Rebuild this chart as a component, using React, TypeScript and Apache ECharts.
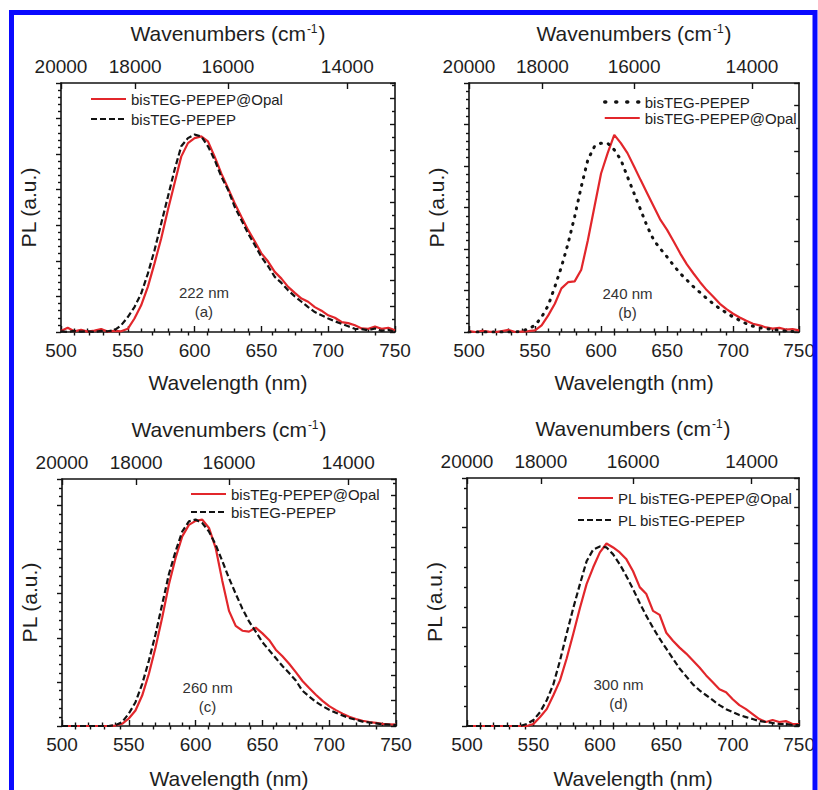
import React, { useEffect, useRef } from "react";
import * as echarts from "echarts";

// ---------- data ----------
const WL = [
  500, 505, 510, 515, 520, 525, 530, 535, 540, 545, 550, 555, 560, 565, 570, 575, 580, 585, 590, 595,
  600, 605, 610, 615, 620, 625, 630, 635, 640, 645, 650, 655, 660, 665, 670, 675, 680, 685, 690, 695,
  700, 705, 710, 715, 720, 725, 730, 735, 740, 745, 750,
];

// (a) excitation 222 nm
const A_OPAL = [
  0.03, 0.12, 0.02, 0.06, 0.01, 0.04, 0.08, 0.01, 0.03,
  0.02, 0.09, 0.38, 0.75, 1.27, 1.93, 2.63, 3.43, 4.18, 4.93, 5.31, 5.45,
  5.5, 5.36, 4.93, 4.46, 4.04, 3.62, 3.24, 2.87, 2.55, 2.21,
  1.98, 1.69, 1.5, 1.27, 1.1, 0.94, 0.85, 0.7, 0.6, 0.47,
  0.4, 0.28, 0.25, 0.19, 0.1, 0.09, 0.15, 0.09, 0.12, 0.05,
];
const A_PURE = [
  0.02, 0.0, 0.03, 0.01, 0.02, 0.0, 0.03, 0.02, 0.05,
  0.19, 0.42, 0.7, 1.08, 1.64, 2.3, 3.05, 3.8, 4.56, 5.22, 5.45, 5.55,
  5.5, 5.22, 4.84, 4.37, 4.0, 3.52, 3.15, 2.77, 2.45, 2.11,
  1.85, 1.55, 1.38, 1.17, 1.0, 0.85, 0.7, 0.56, 0.47, 0.38,
  0.3, 0.23, 0.16, 0.09, 0.08, 0.05, 0.1, 0.03, 0.06, 0.0,
];

// (b) excitation 240 nm
const B_PURE = [
  0, 0, 0, 0, 0, 0, 0, 0, 0.02,
  0.08, 0.16, 0.36, 0.64, 1.09, 1.57, 2.13, 2.78, 3.5, 4.15, 4.47, 4.55,
  4.55, 4.39, 4.15, 3.74, 3.34, 2.94, 2.54, 2.21, 2.0, 1.81,
  1.6, 1.41, 1.25, 1.09, 0.95, 0.81, 0.68, 0.56, 0.46, 0.36,
  0.28, 0.2, 0.14, 0.1, 0.08, 0.06, 0.04, 0.02, 0.01, 0,
];
const B_OPAL = [
  0.02, 0.0, 0.03, 0.01, 0.0, 0.02, 0.05, 0.0, 0.01,
  0.02, 0.04, 0.16, 0.4, 0.68, 1.05, 1.2, 1.22, 1.5, 2.21, 3.02, 3.82,
  4.31, 4.75, 4.55, 4.31, 3.99, 3.66, 3.34, 3.02, 2.7, 2.46,
  2.18, 1.89, 1.63, 1.41, 1.2, 1.01, 0.85, 0.68, 0.55, 0.44,
  0.35, 0.27, 0.2, 0.16, 0.11, 0.08, 0.1, 0.06, 0.07, 0.04,
];

// (c) excitation 260 nm
const C_OPAL = [
  0, 0, 0, 0, 0, 0, 0, 0, 0.01,
  0.05, 0.17, 0.35, 0.69, 1.18, 1.78, 2.46, 3.21, 3.81, 4.3, 4.56, 4.65,
  4.68, 4.49, 4.04, 3.29, 2.61, 2.27, 2.16, 2.14, 2.23, 2.1,
  1.95, 1.73, 1.58, 1.41, 1.22, 1.02, 0.86, 0.71, 0.57, 0.45,
  0.36, 0.28, 0.21, 0.16, 0.12, 0.09, 0.07, 0.05, 0.04, 0.03,
];
const C_PURE = [
  0, 0, 0, 0, 0, 0, 0, 0, 0.02,
  0.09, 0.28, 0.54, 0.95, 1.48, 2.08, 2.76, 3.44, 3.96, 4.41, 4.64, 4.68,
  4.6, 4.41, 4.11, 3.74, 3.35, 3.0, 2.66, 2.37, 2.14, 1.9,
  1.72, 1.54, 1.36, 1.2, 1.03, 0.8, 0.67, 0.55, 0.45, 0.37,
  0.3, 0.24, 0.18, 0.14, 0.1, 0.08, 0.06, 0.04, 0.03, 0.02,
];

// (d) excitation 300 nm
const D_OPAL = [
  0, 0, 0, 0, 0, 0, 0, 0, 0,
  0.0, 0.02, 0.09, 0.17, 0.31, 0.46, 0.68, 0.93, 1.19, 1.43, 1.6, 1.75,
  1.84, 1.8, 1.75, 1.68, 1.56, 1.4, 1.33, 1.16, 1.12, 0.94,
  0.86, 0.79, 0.73, 0.66, 0.59, 0.51, 0.44, 0.37, 0.34, 0.27,
  0.21, 0.17, 0.12, 0.07, 0.04, 0.06, 0.04, 0.05, 0.02, 0.02,
];
const D_PURE = [
  0, 0, 0, 0, 0, 0, 0, 0, 0,
  0.02, 0.06, 0.14, 0.26, 0.42, 0.66, 0.93, 1.19, 1.43, 1.66, 1.78, 1.81,
  1.8, 1.73, 1.63, 1.51, 1.38, 1.24, 1.11, 0.99, 0.88, 0.78,
  0.68, 0.58, 0.5, 0.42, 0.36, 0.31, 0.26, 0.21, 0.17, 0.14,
  0.11, 0.09, 0.07, 0.05, 0.04, 0.03, 0.02, 0.02, 0.01, 0.01,
];

// top axis tick labels (wavenumbers, cm-1)
const TOP_MAJOR_WN = [20000, 18000, 16000, 14000];
const TOP_MINOR_WN = [
  19600, 19200, 18800, 18400, 17600, 17200, 16800, 16400, 15600, 15200, 14800, 14400, 13600,
];

// ---------- styling / layout ----------
const FONT = "'Liberation Sans', Arial, Helvetica, sans-serif";
const TEXT = "#1e1e1e";
const RED = "#e2262b";
const BLACK = "#121212";

type SeriesDef = {
  name: string;
  data: number[];
  kind: "red" | "dash" | "dot";
};

const PANELS = [
  {
    key: "a",
    left: 61, top: 83, height: 249,
    leftMax: 7, rightMax: 9.6,
    xNameGap: 40,
    legend: { left: 90, top: 91.5, gap: 5 },
    series: [
      { name: "bisTEG-PEPEP@Opal", data: A_OPAL, kind: "red" },
      { name: "bisTEG-PEPEP", data: A_PURE, kind: "dash" },
    ] as SeriesDef[],
    note: { text: "222 nm\n(a)", at: [607, 0.83] },
  },
  {
    key: "b",
    left: 469, top: 83, height: 249,
    leftMax: 6, rightMax: 5.5,
    xNameGap: 40,
    legend: { left: 603, top: 94.5, gap: 1 },
    series: [
      { name: "bisTEG-PEPEP", data: B_PURE, kind: "dot" },
      { name: "bisTEG-PEPEP@Opal", data: B_OPAL, kind: "red" },
    ] as SeriesDef[],
    note: { text: "240 nm\n(b)", at: [620, 0.69] },
  },
  {
    key: "c",
    left: 62, top: 479, height: 248,
    leftMax: 5.6, rightMax: 9.65,
    xNameGap: 42,
    legend: { left: 190, top: 486.5, gap: 3 },
    series: [
      { name: "bisTEg-PEPEP@Opal", data: C_OPAL, kind: "red" },
      { name: "bisTEG-PEPEP", data: C_PURE, kind: "dash" },
    ] as SeriesDef[],
    note: { text: "260 nm\n(c)", at: [609, 0.65] },
  },
  {
    key: "d",
    left: 467, top: 478, height: 249,
    leftMax: 2.5, rightMax: 6.8,
    xNameGap: 42,
    legend: { left: 577, top: 490.5, gap: 7 },
    series: [
      { name: "PL bisTEG-PEPEP@Opal", data: D_OPAL, kind: "red" },
      { name: "PL bisTEG-PEPEP", data: D_PURE, kind: "dash" },
    ] as SeriesDef[],
    note: { text: "300 nm\n(d)", at: [614, 0.32] },
  },
];

const wnToNm = (wn: number) => 1e7 / wn;

function lineStyleFor(kind: SeriesDef["kind"]) {
  if (kind === "red") return { color: RED, width: 2.2, type: "solid" as const };
  if (kind === "dash") return { color: BLACK, width: 2.2, type: [6, 3] as number[] };
  return { color: BLACK, width: 3, type: [1, 7] as number[], cap: "round" as const };
}

function buildOption() {
  const grid: any[] = [];
  const xAxis: any[] = [];
  const yAxis: any[] = [];
  const series: any[] = [];
  const legend: any[] = [];
  const axisLine = { show: true, onZero: false, lineStyle: { color: BLACK, width: 1.6 } };
  const tickLine = { color: BLACK, width: 1.4 };

  PANELS.forEach((p, k) => {
    grid.push({ left: p.left, top: p.top, width: 334, height: p.height, containLabel: false });

    // bottom wavelength axis
    xAxis.push({
      type: "value", gridIndex: k, position: "bottom", min: 500, max: 750, interval: 50,
      axisLine,
      axisTick: { show: true, inside: true, length: 6, lineStyle: tickLine },
      minorTick: { show: true, splitNumber: 5, length: 3.5, lineStyle: tickLine },
      axisLabel: { show: true, margin: 9, fontSize: 19, color: TEXT, fontFamily: FONT },
      splitLine: { show: false }, minorSplitLine: { show: false },
      name: "Wavelength (nm)", nameLocation: "middle", nameGap: p.xNameGap,
      nameTextStyle: { fontSize: 21, color: TEXT, fontFamily: FONT },
    });
    // top wavenumber axis (major ticks + labels)
    const majorNm = TOP_MAJOR_WN.map(wnToNm);
    xAxis.push({
      type: "value", gridIndex: k, position: "top", min: 500, max: 750,
      axisLine,
      axisTick: { show: true, inside: true, length: 6, lineStyle: tickLine, customValues: majorNm },
      axisLabel: {
        show: true, margin: 7, fontSize: 19, color: TEXT, fontFamily: FONT,
        customValues: majorNm,
        formatter: (v: number) => String(Math.round(1e7 / v / 100) * 100),
      },
      splitLine: { show: false },
      name: "Wavenumbers (cm{sup|-1})", nameLocation: "middle", nameGap: 39,
      nameTextStyle: {
        fontSize: 21, color: TEXT, fontFamily: FONT,
        rich: { sup: { fontSize: 12, color: TEXT, fontFamily: FONT, verticalAlign: "top", lineHeight: 12, padding: [0, 1, 10, 1] } },
      },
    });
    // top wavenumber axis (minor ticks)
    xAxis.push({
      type: "value", gridIndex: k, position: "top", min: 500, max: 750,
      axisLine: { show: false },
      axisTick: { show: true, inside: true, length: 3.5, lineStyle: tickLine, customValues: TOP_MINOR_WN.map(wnToNm) },
      axisLabel: { show: false },
      splitLine: { show: false },
    });

    // left PL axis
    yAxis.push({
      type: "value", gridIndex: k, position: "left", min: 0, max: p.leftMax, interval: 1,
      axisLine,
      axisTick: { show: true, inside: false, length: 5, lineStyle: tickLine },
      minorTick: { show: true, splitNumber: 5, length: 3, lineStyle: tickLine },
      axisLabel: { show: false },
      splitLine: { show: false }, minorSplitLine: { show: false },
      name: "PL (a.u.)", nameLocation: "middle", nameGap: 22,
      nameTextStyle: { fontSize: 21, color: TEXT, fontFamily: FONT },
    });
    // right mirror axis
    yAxis.push({
      type: "value", gridIndex: k, position: "right", min: 0, max: p.rightMax, interval: 1,
      axisLine,
      axisTick: { show: true, inside: true, length: 5, lineStyle: tickLine },
      minorTick: { show: true, splitNumber: 2, length: 3, lineStyle: tickLine },
      axisLabel: { show: false },
      splitLine: { show: false }, minorSplitLine: { show: false },
    });

    const legendItems: any[] = [];
    p.series.forEach((s) => {
      const fullName = p.key + ":" + s.name;
      const ls = lineStyleFor(s.kind);
      legendItems.push(
        s.kind === "dot"
          ? { name: fullName, lineStyle: { type: [1, 10], width: 3.5, cap: "round", color: BLACK } }
          : { name: fullName }
      );
      const item: any = {
        type: "line", name: fullName, xAxisIndex: 3 * k, yAxisIndex: 2 * k,
        data: WL.map((x, j) => [x, s.data[j]]),
        symbol: "none", showSymbol: false, smooth: false,
        lineStyle: ls, itemStyle: { color: ls.color },
        z: s.kind === "red" ? 3 : 4,
        silent: true,
      };
      if (s.kind === "red") {
        item.markPoint = {
          silent: true,
          symbol: "circle", symbolSize: 1,
          itemStyle: { color: "rgba(0,0,0,0)" },
          data: [{
            coord: p.note.at,
            label: {
              show: true, position: "inside", formatter: p.note.text,
              fontSize: 15, lineHeight: 19, color: "#333", fontFamily: FONT,
            },
          }],
        };
      }
      series.push(item);
    });

    legend.push({
      orient: "vertical", left: p.legend.left, top: p.legend.top,
      itemWidth: 35, itemHeight: 14, itemGap: p.legend.gap,
      data: legendItems, selectedMode: false,
      formatter: (n: string) => n.slice(2),
      textStyle: { fontSize: 15, color: TEXT, fontFamily: FONT },
      itemStyle: { opacity: 0, color: "rgba(0,0,0,0)", borderColor: "rgba(0,0,0,0)", borderWidth: 0 },
      padding: 0,
    });
  });

  return {
    animation: false,
    backgroundColor: "#ffffff",
    grid, xAxis, yAxis, series, legend,
    graphic: [{
      type: "rect", silent: true, z: 100,
      shape: { x: 11.5, y: 12.5, width: 803.5, height: 800 },
      style: { fill: "none", stroke: "#0a0aff", lineWidth: 5 },
    }],
  };
}

export default function App() {
  const ref = useRef<HTMLDivElement | null>(null);
  useEffect(() => {
    if (!ref.current) return;
    const chart = echarts.init(ref.current, undefined, { renderer: "svg" });
    chart.setOption(buildOption() as any);
    return () => chart.dispose();
  }, []);
  return (
    <div
      ref={ref}
      style={{ position: "fixed", left: 0, top: 0, width: 818, height: 790, background: "#fff" }}
    />
  );
}
